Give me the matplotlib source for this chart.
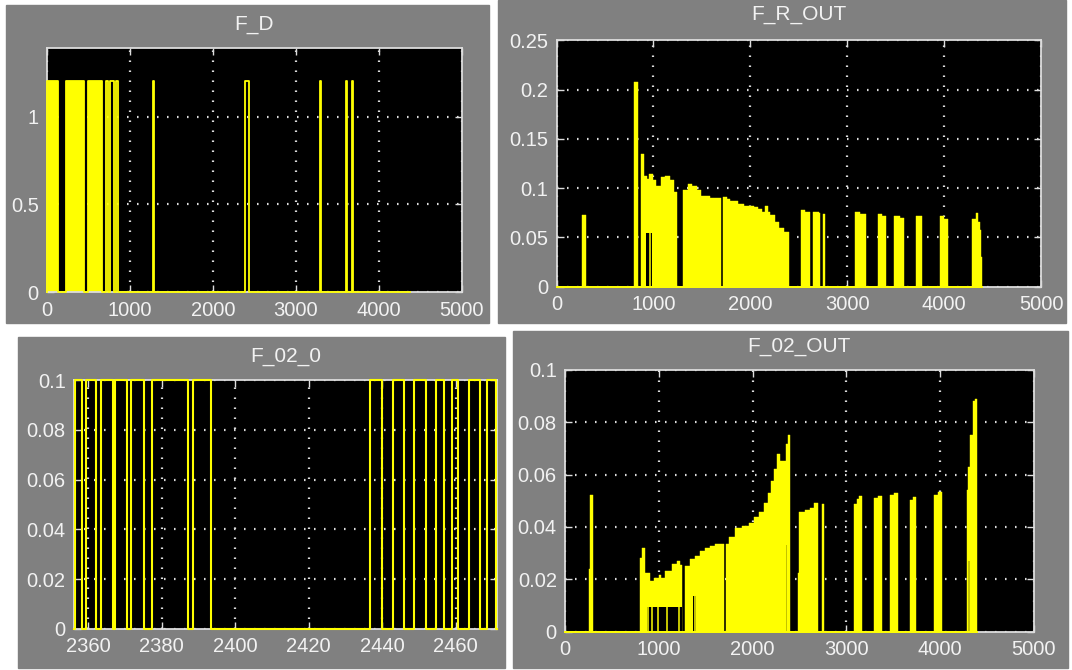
import numpy as np
import matplotlib.pyplot as plt
from matplotlib.patches import Rectangle
from matplotlib.ticker import FuncFormatter, MultipleLocator

plt.rcParams['font.family'] = ['Liberation Sans', 'DejaVu Sans']

# ---- F_D : rectangular pulses of height 1.2
fd_starts = [0, 225, 494, 712, 760, 832, 1272, 2388, 3287, 3600, 3673]
fd_ends = [133, 447, 663, 736, 805, 857, 1285, 2428, 3300, 3613, 3686]
fd_level = 1.2
fd_end = 4370

# ---- F_R_OUT : step profile (value holds from x to next x)
fro_x = [0, 265, 305, 804, 845, 869, 907, 935, 956, 990, 1031, 1080, 1121, 1173,
         1207, 1238, 1304, 1356, 1397, 1448, 1490, 1586, 1697, 1714, 1759, 1793,
         1872, 1931, 2034, 2079, 2120, 2155, 2179, 2207, 2259, 2293, 2345, 2403,
         2527, 2568, 2620, 2644, 2706, 2716, 2748, 2775, 3085, 3127, 3189, 3313,
         3354, 3403, 3482, 3540, 3585, 3706, 3775, 3954, 3999, 4040, 4285, 4333,
         4350, 4368, 4380]
fro_y = [0, 0.073, 0, 0.208, 0, 0.1345, 0.112, 0.109, 0.114, 0.108, 0.102, 0.1115,
         0.112, 0.108, 0.096, 0, 0.098, 0.104, 0.102, 0.098, 0.092, 0.0896, 0,
         0.091, 0.0886, 0.087, 0.0838, 0.082, 0.081, 0.079, 0.076, 0.082, 0.076,
         0.0727, 0.066, 0.060, 0.0558, 0, 0.0777, 0.076, 0, 0.076, 0.0747, 0,
         0.0737, 0, 0.076, 0.0737, 0, 0.0737, 0.072, 0, 0.072, 0.070, 0, 0.072,
         0, 0.072, 0.069, 0, 0.069, 0.0745, 0.066, 0.0575, 0.03]
fro_end = 4390
fro_hole_start = [918]
fro_hole_end = [983]
fro_hole_top = [0.054]
fro_spike_x = [960]
fro_spike_top = [0.054]

# ---- F_02_0 : switching times of a 0 / 0.1 signal (starts low)
f20_edges = [2356.3, 2358.4, 2359.5, 2362.1, 2363.4, 2366.6, 2367.2, 2370.4,
             2371.6, 2375.1, 2377.4, 2387.1, 2388.5, 2393.4, 2436.6, 2439.9,
             2442.8, 2445.9, 2448.6, 2451.8, 2454.5, 2456.8, 2459.0, 2460.6,
             2463.7, 2466.5, 2468.5, 2471.0]
f20_level = 0.1
f20_xlim = (2356.1, 2471.3)

# ---- F_02_OUT : step profile
fo_x = [0, 250, 265, 297, 795, 820, 855, 905, 945, 998, 1026, 1069, 1140, 1194,
        1229, 1247, 1283, 1336, 1389, 1443, 1496, 1550, 1603, 1699, 1713, 1745,
        1816, 1888, 1959, 2012, 2066, 2119, 2165, 2201, 2226, 2262, 2297, 2358,
        2379, 2400, 2482, 2500, 2560, 2614, 2660, 2696, 2738, 2763, 3083, 3112,
        3137, 3172, 3297, 3343, 3386, 3471, 3511, 3557, 3681, 3717, 3749, 3941,
        3984, 4027, 4286, 4304, 4325, 4350, 4375]
fo_y = [0, 0.024, 0.052, 0, 0.028, 0.032, 0.0224, 0.0195, 0.0205, 0.0215, 0.0205,
        0.023, 0.026, 0.027, 0.0256, 0, 0.025, 0.0276, 0.029, 0.0308, 0.0318,
        0.0327, 0.0333, 0, 0.0333, 0.036, 0.0397, 0.0404, 0.0413, 0.0436, 0.0455,
        0.049, 0.053, 0.0577, 0.062, 0.068, 0.065, 0.0718, 0.075, 0, 0.0224,
        0.0455, 0.0464, 0.0474, 0.049, 0, 0.0487, 0, 0.0487, 0.0506, 0.0518, 0,
        0.0509, 0.0517, 0, 0.052, 0.053, 0, 0.0503, 0.0515, 0, 0.052, 0.0532, 0,
        0.054, 0.0628, 0.075, 0.0882, 0.0887]
fo_end = 4393
fo_hole_start = [870, 1365, 2355, 4305]
fo_hole_end = [1247, 1400, 2370, 4322]
fo_hole_top = [0.0095, 0.0135, 0.033, 0.027]
fo_spike_x = [884, 927, 994, 1083, 1211, 1382, 2362, 4313]
fo_spike_top = [0.0095, 0.0095, 0.0105, 0.0096, 0.0125, 0.0135, 0.033, 0.027]

W, H = 1072, 670
GRAY = '#808080'
YEL = '#ffff00'
FG = '#dcdcdc'
TXT = '#f2f2f2'

fig = plt.figure(figsize=(W / 100, H / 100), dpi=100)
fig.patch.set_facecolor('white')


def panel(x0, y0, x1, y1):
    fig.add_artist(Rectangle((x0 / W, 1 - y1 / H), (x1 - x0) / W, (y1 - y0) / H,
                             transform=fig.transFigure, color=GRAY, zorder=0))


def scope_axes(l, t, r, b, title, title_y):
    ax = fig.add_axes([l / W, 1 - b / H, (r - l) / W, (b - t) / H])
    ax.set_facecolor('black')
    for s in ax.spines.values():
        s.set_color(FG)
        s.set_linewidth(1.3)
    ax.tick_params(direction='in', length=5, width=1, color=FG, labelcolor=TXT,
                   labelsize=14.5, top=True, right=True)
    ax.tick_params(axis='x', pad=6)
    ax.tick_params(axis='y', pad=6)
    ax.grid(True, color=FG, linestyle=(0, (0.7, 3.8)), linewidth=1.6)
    ax.set_axisbelow(True)
    fmt = FuncFormatter(lambda v, p: '%g' % round(v, 6))
    ax.xaxis.set_major_formatter(fmt)
    ax.yaxis.set_major_formatter(fmt)
    fig.text((l + r) / 2 / W, 1 - title_y / H, title, color=TXT, fontsize=15,
             ha='center', va='center')
    return ax


def draw_profile(ax, bx, by, t_end, holes=(), spikes=()):
    x = np.append(np.asarray(bx, float), t_end)
    y = np.append(np.asarray(by, float), 0.0)
    ax.fill_between(x, 0, y, step='post', color=YEL, lw=0.3, edgecolor=YEL, zorder=2)
    for s, e, top in holes:
        ax.fill_between([s, e], 0, top, color='black', lw=0, zorder=2.1)
    for sx, top in spikes:
        ax.vlines(sx, 0, top, color=YEL, lw=1.1, zorder=2.2)
    ax.plot([x[0], x[-1]], [0, 0], color=YEL, lw=1.4, zorder=3, clip_on=False)


panel(6, 5, 489, 323)
panel(498, 0, 1066, 323)
panel(18, 337, 505, 668)
panel(513, 331, 1068, 668)

# F_D
ax = scope_axes(47, 48, 462, 292.3, 'F_D', 25)
bx, by = [0.0], [0.0]
for s, e in zip(fd_starts, fd_ends):
    bx += [s, e]
    by += [fd_level, 0.0]
    if e - s > 100:
        ax.fill_between([s, e], 0, fd_level, color=YEL, lw=0, zorder=2)
bx.append(fd_end)
by.append(0.0)
ax.plot(bx, by, drawstyle='steps-post', color=YEL, lw=1.3, zorder=3, clip_on=False)
ax.set_xlim(0, 5000)
ax.set_ylim(0, 1.39)
ax.xaxis.set_major_locator(MultipleLocator(1000))
ax.set_yticks([0, 0.5, 1])

# F_R_OUT
ax = scope_axes(556.6, 40.2, 1041, 286.7, 'F_R_OUT', 15)
draw_profile(ax, fro_x, fro_y, fro_end,
             zip(fro_hole_start, fro_hole_end, fro_hole_top),
             zip(fro_spike_x, fro_spike_top))
ax.set_xlim(0, 5000)
ax.set_ylim(0, 0.25)
ax.xaxis.set_major_locator(MultipleLocator(1000))
ax.yaxis.set_major_locator(MultipleLocator(0.05))

# F_02_0
ax = scope_axes(74, 380, 497.3, 629, 'F_02_0', 356)
tx, ty = [f20_xlim[0]], [0.0]
v = 0.0
for e in f20_edges:
    v = f20_level - v
    tx.append(e)
    ty.append(v)
tx.append(f20_xlim[1])
ty.append(v)
ax.plot(tx, ty, drawstyle='steps-post', color=YEL, lw=1.5, zorder=3, clip_on=False)
ax.set_xlim(*f20_xlim)
ax.set_ylim(0, 0.1)
ax.xaxis.set_major_locator(MultipleLocator(20))
ax.yaxis.set_major_locator(MultipleLocator(0.02))

# F_02_OUT
ax = scope_axes(565.2, 369.7, 1033.5, 631.7, 'F_02_OUT', 347)
draw_profile(ax, fo_x, fo_y, fo_end,
             zip(fo_hole_start, fo_hole_end, fo_hole_top),
             zip(fo_spike_x, fo_spike_top))
ax.set_xlim(0, 5000)
ax.set_ylim(0, 0.1)
ax.xaxis.set_major_locator(MultipleLocator(1000))
ax.yaxis.set_major_locator(MultipleLocator(0.02))

fig.savefig('out.png', dpi=100, facecolor='white')
